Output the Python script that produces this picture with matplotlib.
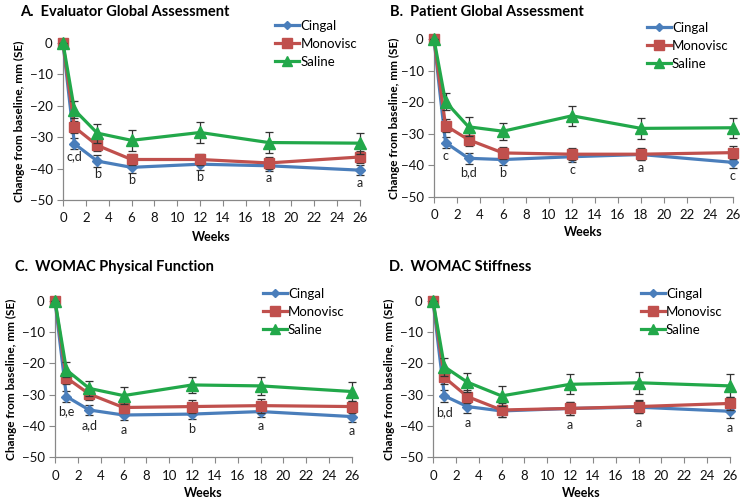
import matplotlib
matplotlib.use("Agg")
import matplotlib.pyplot as plt
import numpy as np

plt.rcParams['font.family'] = ['Lato', 'DejaVu Sans']

weeks = [0, 1, 3, 6, 12, 18, 26]
series_names = ["Cingal", "Monovisc", "Saline"]

titles = ["A.  Evaluator Global Assessment", "B.  Patient Global Assessment",
          "C.  WOMAC Physical Function", "D.  WOMAC Stiffness"]

# Panel A
a_cingal = [0, -32.1, -37.6, -39.6, -38.6, -39.1, -40.5]
a_monovisc = [0, -26.8, -32.6, -37.1, -37.1, -38.2, -36.3]
a_saline = [0, -21.3, -28.7, -31.0, -28.5, -31.7, -31.9]
a_cingal_se = [0, 1.8, 1.9, 1.7, 1.7, 1.7, 1.5]
a_monovisc_se = [0, 2.0, 1.9, 1.8, 1.8, 2.0, 1.8]
a_saline_se = [0, 2.7, 3.0, 3.3, 3.5, 3.3, 3.3]
a_letters = ["", "c,d", "b", "b", "b", "a", "a"]

# Panel B
b_cingal = [0, -32.8, -37.8, -38.2, -37.3, -36.6, -39.1]
b_monovisc = [0, -27.4, -31.9, -36.1, -36.5, -36.5, -36.0]
b_saline = [0, -19.8, -27.8, -29.2, -24.3, -28.3, -28.1]
b_cingal_se = [0, 1.8, 1.8, 1.7, 1.8, 1.8, 1.7]
b_monovisc_se = [0, 2.0, 2.0, 2.0, 2.0, 2.0, 2.0]
b_saline_se = [0, 2.6, 3.0, 2.7, 3.1, 3.3, 3.1]
b_letters = ["", "c", "b,d", "b", "c", "a", "c"]

# Panel C
c_cingal = [0, -30.6, -34.9, -36.5, -36.2, -35.4, -37.0]
c_monovisc = [0, -24.6, -29.8, -34.1, -33.8, -33.5, -33.8]
c_saline = [0, -22.1, -28.0, -30.3, -26.9, -27.2, -29.0]
c_cingal_se = [0, 1.7, 1.6, 1.7, 1.7, 1.7, 1.7]
c_monovisc_se = [0, 1.9, 1.8, 1.9, 2.0, 2.2, 1.9]
c_saline_se = [0, 2.4, 2.5, 2.6, 2.6, 2.9, 2.9]
c_letters = ["", "b,e", "a,d", "a", "b", "a", "a"]

# Panel D
d_cingal = [0, -30.4, -33.8, -35.2, -34.4, -34.0, -35.3]
d_monovisc = [0, -24.5, -30.6, -34.9, -34.4, -33.8, -32.8]
d_saline = [0, -21.1, -26.0, -30.4, -26.7, -26.2, -27.2]
d_cingal_se = [0, 2.0, 2.2, 2.0, 2.0, 2.0, 2.0]
d_monovisc_se = [0, 2.0, 2.0, 2.2, 2.0, 2.0, 2.0]
d_saline_se = [0, 2.9, 3.0, 3.2, 3.2, 3.5, 3.7]
d_letters = ["", "b,d", "a", "", "a", "a", "a"]

panels = [
    (a_cingal, a_monovisc, a_saline, a_cingal_se, a_monovisc_se, a_saline_se, a_letters),
    (b_cingal, b_monovisc, b_saline, b_cingal_se, b_monovisc_se, b_saline_se, b_letters),
    (c_cingal, c_monovisc, c_saline, c_cingal_se, c_monovisc_se, c_saline_se, c_letters),
    (d_cingal, d_monovisc, d_saline, d_cingal_se, d_monovisc_se, d_saline_se, d_letters),
]

colors = ["#4A7EBB", "#C0504D", "#22A84A"]
markers = ["D", "s", "^"]
msizes = [5, 7.5, 8]

W, H = 740, 499
fig = plt.figure(figsize=(7.4, 4.99), dpi=100)

# axes rectangles in pixels: left, right, top(y of 0), bottom(y of -50)
rects = [(63, 360, 43, 200), (434, 733, 39.3, 196.7),
         (55, 352, 300.7, 457.3), (433, 730, 300.7, 457.3)]
title_pos = [(20, 12), (390, 12), (15, 267), (389, 267)]
legend_row1 = [1.083, 1.048, 1.017, 1.017]
legend_x = [0.715, 0.712, 0.70, 0.70]
letter_off = [4.0, 4.3, 4.7, 5.2]
ylabel_px = [25, 400, 17, 395]
xlabel_top_px = [231, 226, 487, 487]

for i, (rect, data) in enumerate(zip(rects, panels)):
    l, r, t, b = rect
    ax = fig.add_axes([l / W, (H - b) / H, (r - l) / W, (b - t) / H])
    vals = data[:3]
    ses = data[3:6]
    letters = data[6]
    handles = []
    for k in range(3):
        ax.errorbar(weeks, vals[k], yerr=ses[k], fmt='none', ecolor='#333333',
                    elinewidth=0.9, capsize=3, capthick=0.9, zorder=2 + k, clip_on=False)
        h, = ax.plot(weeks, vals[k], color=colors[k], marker=markers[k],
                     markersize=msizes[k], linewidth=2.3, label=series_names[k],
                     zorder=3 + k, clip_on=False)
        handles.append(h)
    for x, y, s in zip(weeks, vals[0], letters):
        if s:
            ax.text(x, y - letter_off[i], s, ha='center', va='center', fontsize=9,
                    color='#222222')
    ax.set_xlim(0, 26)
    ax.set_ylim(-50, 0)
    ax.set_xticks(range(0, 27, 2))
    ax.set_yticks(range(-50, 1, 10))
    for sp in ['top', 'right']:
        ax.spines[sp].set_visible(False)
    for sp in ['left', 'bottom']:
        ax.spines[sp].set_color('#888888')
        ax.spines[sp].set_linewidth(0.9)
    ax.tick_params(axis='both', direction='out', length=4, color='#888888',
                   labelsize=9.5, labelcolor='#111111')
    ax.tick_params(axis='x', pad=5)
    ax.set_xlabel("Weeks", fontsize=9, fontweight='bold')
    ax.set_ylabel("Change from baseline, mm (SE)", fontsize=8.5, fontweight='bold')
    ax.yaxis.set_label_coords((ylabel_px[i] - l) / (r - l), 0.5)
    ax.xaxis.set_label_coords(0.5, (b - xlabel_top_px[i]) / (b - t))
    row_h = 20.0 / (b - t)
    leg = ax.legend(handles=handles, loc='upper left',
                    bbox_to_anchor=(legend_x[i], legend_row1[i] + row_h / 2),
                    frameon=False, fontsize=9.5, handlelength=1.8, handletextpad=0.1,
                    labelspacing=0.45, borderpad=0, borderaxespad=0)
    for lh in leg.legend_handles:
        lh.set_markersize(lh.get_markersize() * 0.9)
    tx, ty = title_pos[i]
    fig.text(tx / W, 1 - ty / H, titles[i], fontsize=10.5, fontweight='bold',
             ha='left', va='center')

fig.savefig("out.png", dpi=100)
